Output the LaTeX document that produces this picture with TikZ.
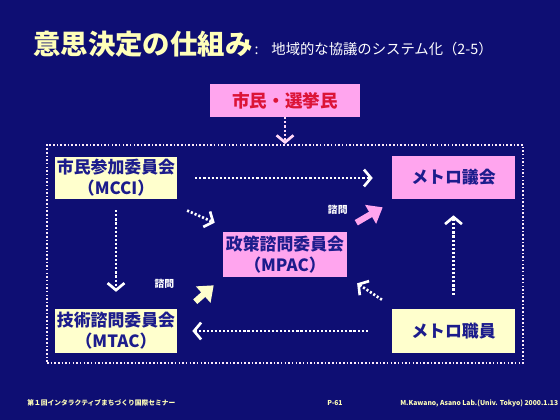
\documentclass[tikz,border=0pt]{standalone}
\usepackage{fontspec}
\setmainfont{Noto Sans CJK JP}
\usetikzlibrary{arrows.meta, positioning}

\definecolor{slidebg}{RGB}{14,14,115}
\definecolor{boxpink}{RGB}{255,165,238}
\definecolor{boxcream}{RGB}{255,255,205}
\definecolor{titlecream}{RGB}{255,255,185}
\definecolor{boxtext}{RGB}{28,28,140}
\definecolor{votertext}{RGB}{220,20,55}

\begin{document}
\begin{tikzpicture}[
  x=0.25mm, y=-0.25mm,
  block/.style={rectangle, inner sep=0pt, align=center, text=boxtext, font=\fontsize{12}{15}\selectfont\bfseries},
  flow/.style={draw=white, line width=1.9pt, dash pattern=on 1.5pt off 1.4pt, -{Straight Barb[length=5pt, width=12pt, line width=1.9pt]}},
  advise/.style={line width=4.4pt, -{Triangle[length=10pt, width=15pt]}},
  asklabel/.style={text=white, font=\fontsize{7}{8}\selectfont\bfseries},
  frame/.style={draw=white!80!boxpink, line width=1.3pt, dash pattern=on 1.1pt off 1.5pt, inner sep=0pt}
  ]
  % ========== background + title ==========
  \fill[slidebg] (0,0) rectangle (560,420);
  \node[anchor=west, inner sep=0pt, text=titlecream, font=\fontsize{19.5}{22}\selectfont\bfseries] (title) at (33,44) {意思決定の仕組み};
  \node[right=1pt of title.base east, anchor=base west, inner sep=0pt, text=white, font=\fontsize{10.2}{11}\selectfont] (subtitle) {:\hspace{0.9em}地域的な協議のシステム化（2-5）};

  % ========== boxes ==========
  \node[block, fill=boxpink, text=votertext, font=\fontsize{12.5}{14}\selectfont\bfseries, minimum width=37.5mm, minimum height=8.25mm] (voters) at (285,100.5) {市民・選挙民};
  \node[frame, minimum width=119mm, minimum height=54.5mm] (frame) at (285,254) {};
  \node[block, fill=boxcream, minimum width=30.5mm, minimum height=10.5mm] (mcci) at (116,178) {市民参加委員会\\（MCCI）};
  \node[block, fill=boxpink, minimum width=30.75mm, minimum height=10.75mm] (council) at (453.5,177.5) {メトロ議会};
  \node[block, fill=boxpink, minimum width=31mm, minimum height=11.25mm] (mpac) at (285,254.5) {政策諮問委員会\\（MPAC）};
  \node[block, fill=boxcream, minimum width=30.5mm, minimum height=11mm] (mtac) at (116,331) {技術諮問委員会\\（MTAC）};
  \node[block, fill=boxcream, minimum width=30.75mm, minimum height=11mm] (staff) at (453.5,331) {メトロ職員};

  % ========== connectors ==========
  \draw[flow, draw=white!55!boxpink] (voters.south) -- (voters.south |- frame.north);
  \draw[flow, shorten <=12.8pt, shorten >=13.5pt] (mcci.east) -- (council.west |- mcci.east);
  \draw[flow] ([xshift=7pt, yshift=-8pt]mcci.south east) -- ([xshift=-5.7pt, yshift=6.4pt]mpac.north west);
  \draw[flow, shorten <=7.8pt, shorten >=12pt] (mcci.south) -- (mtac.north);
  \draw[flow, shorten <=10pt, shorten >=11.4pt] (staff.north) -- (council.south);
  \draw[flow] ([xshift=-7pt, yshift=6.4pt]staff.north west) -- ([xshift=7pt, yshift=-4.3pt]mpac.south east);
  \draw[flow, shorten <=17pt, shorten >=10.7pt] (staff.west) -- (mtac.east);

  % ========== 諮問 ==========
  \draw[advise, draw=boxpink, fill=boxpink] ([xshift=6.4pt, yshift=6.4pt]mpac.north east) -- ([xshift=-6.4pt, yshift=-5.7pt]council.south west) node[asklabel, midway, left=10pt, yshift=4pt] (askcouncil) {諮問};
  \draw[advise, draw=boxcream, fill=boxcream] ([xshift=12.8pt, yshift=5pt]mtac.north east) -- ([xshift=-6.4pt, yshift=-5.7pt]mpac.south west) node[asklabel, midway, left=16pt, yshift=7pt] (askmpac) {諮問};

  % ========== footer ==========
  \node[anchor=west, inner sep=0pt, text=titlecream, font=\fontsize{4.8}{5}\selectfont\bfseries] (seminar) at (27,403) {第１回インタラクティブまちづくり国際セミナー};
  \node[anchor=west, inner sep=0pt, text=titlecream, font=\fontsize{4.8}{5}\selectfont\bfseries] (page) at (327,403) {P-61};
  \node[anchor=west, inner sep=0pt, text=titlecream, font=\fontsize{4.8}{5}\selectfont\bfseries] (credit) at (400,403) {M.Kawano, Asano Lab.(Univ. Tokyo) 2000.1.13};
\end{tikzpicture}
\end{document}
